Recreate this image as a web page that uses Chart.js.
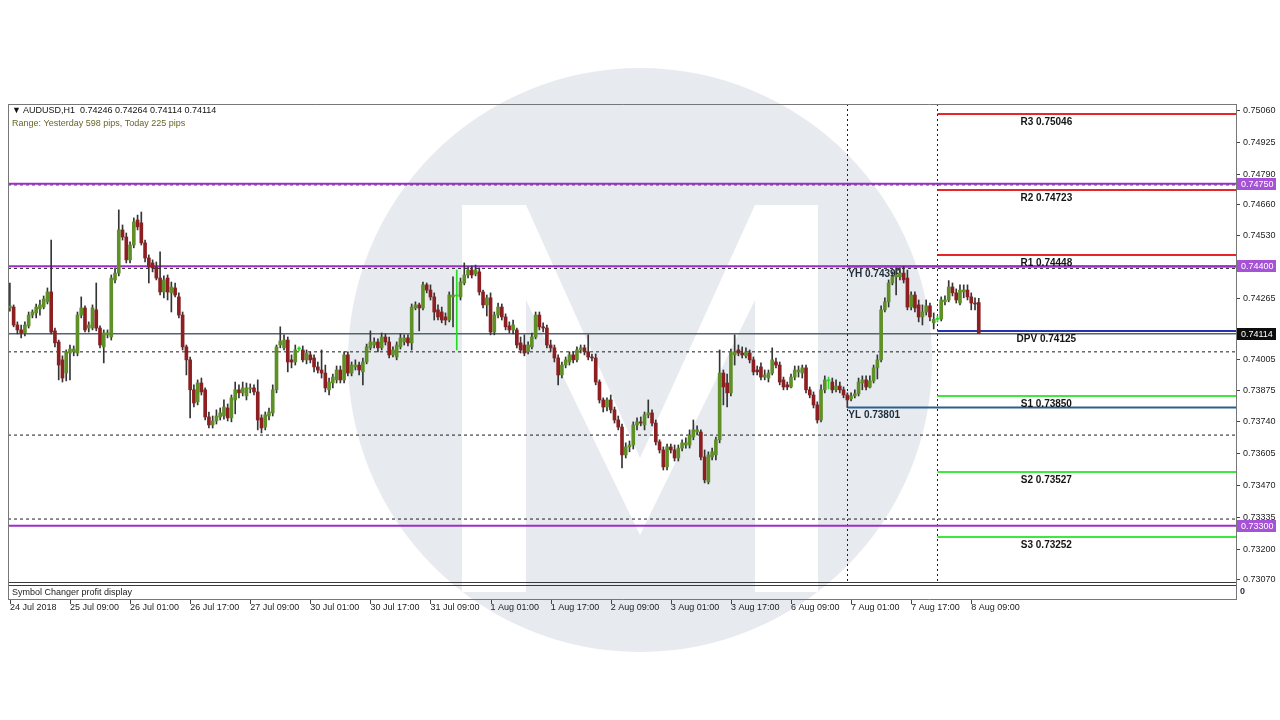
<!DOCTYPE html>
<html>
<head>
<meta charset="utf-8">
<title>AUDUSD,H1</title>
<script src="https://cdn.jsdelivr.net/npm/chart.js"></script>
<style>
    html, body { margin: 0; padding: 0; background: #ffffff; }
    #chartBox { width: 1280px; height: 720px; }
</style>
</head>
<body>
<div id="chartBox"><canvas id="priceChart" width="1280" height="720"></canvas></div>
<script>
// --- Data ---
const symbolName = 'AUDUSD,H1';
const rangeText = 'Range: Yesterday 598 pips, Today 225 pips';
const subWindowName = 'Symbol Changer profit display';

// x axis: one label every 16 hourly bars
const timeLabels = ['24 Jul 2018', '25 Jul 09:00', '26 Jul 01:00', '26 Jul 17:00', '27 Jul 09:00', '30 Jul 01:00',
    '30 Jul 17:00', '31 Jul 09:00', '1 Aug 01:00', '1 Aug 17:00', '2 Aug 09:00', '3 Aug 01:00', '3 Aug 17:00',
    '6 Aug 09:00', '7 Aug 01:00', '7 Aug 17:00', '8 Aug 09:00'];
const labelEvery = 16;
const slotCount = 327;          // bars that fit in the window (rest is empty space on the right)
const yesterdayStart = 223;     // bar index of 7 Aug 00:00
const todayStart = 247;         // bar index of 8 Aug 00:00

// right axis
const yTicks = [0.75060, 0.74925, 0.74790, 0.74660, 0.74530, 0.74400, 0.74265, 0.74125, 0.74005, 0.73875,
    0.73740, 0.73605, 0.73470, 0.73335, 0.73200, 0.73070];
const yMin = 0.73061;
const yMax = 0.75088;

const opens = [
    0.74223, 0.74227, 0.74151, 0.74130, 0.74117, 0.74147, 0.74193, 0.74202, 0.74219, 0.74227,
    0.74249, 0.74291, 0.74126, 0.74079, 0.74003, 0.73947, 0.74032, 0.74037, 0.74032, 0.74193,
    0.74223, 0.74138, 0.74138, 0.74215, 0.74138, 0.74058, 0.74109, 0.74100, 0.74342, 0.74371,
    0.74554, 0.74524, 0.74427, 0.74490, 0.74596, 0.74584, 0.74499, 0.74435, 0.74414, 0.74397,
    0.74350, 0.74291, 0.74350, 0.74287, 0.74308, 0.74270, 0.74193, 0.74058, 0.74003, 0.73876,
    0.73825, 0.73905, 0.73876, 0.73761, 0.73727, 0.73744, 0.73761, 0.73765, 0.73799, 0.73757,
    0.73833, 0.73876, 0.73863, 0.73850, 0.73880, 0.73884, 0.73867, 0.73757, 0.73718, 0.73765,
    0.73778, 0.73876, 0.74066, 0.74054, 0.74087, 0.74003, 0.73994, 0.74049, 0.74045, 0.74003,
    0.74024, 0.74011, 0.73973, 0.73960, 0.73947, 0.73876, 0.73905, 0.73918, 0.73960, 0.73918,
    0.74024, 0.73947, 0.73973, 0.73981, 0.73952, 0.73994, 0.74054, 0.74066, 0.74079, 0.74054,
    0.74100, 0.74079, 0.74024, 0.74015, 0.74058, 0.74079, 0.74096, 0.74075, 0.74223, 0.74236,
    0.74223, 0.74321, 0.74299, 0.74270, 0.74215, 0.74206, 0.74185, 0.74172, 0.74270, 0.74274,
    0.74270, 0.74329, 0.74363, 0.74384, 0.74367, 0.74376, 0.74291, 0.74236, 0.74266, 0.74121,
    0.74193, 0.74227, 0.74185, 0.74147, 0.74130, 0.74130, 0.74075, 0.74066, 0.74037, 0.74058,
    0.74100, 0.74193, 0.74143, 0.74138, 0.74066, 0.74054, 0.74011, 0.73939, 0.73981, 0.73994,
    0.74024, 0.74003, 0.74045, 0.74054, 0.74037, 0.74015, 0.74011, 0.73909, 0.73833, 0.73803,
    0.73833, 0.73791, 0.73748, 0.73718, 0.73600, 0.73634, 0.73642, 0.73727, 0.73740, 0.73727,
    0.73770, 0.73778, 0.73735, 0.73655, 0.73621, 0.73549, 0.73634, 0.73621, 0.73587, 0.73629,
    0.73642, 0.73642, 0.73676, 0.73697, 0.73697, 0.73591, 0.73485, 0.73591, 0.73600, 0.73664,
    0.73947, 0.73905, 0.73863, 0.74024, 0.74045, 0.74032, 0.74020, 0.74032, 0.74003, 0.73960,
    0.73973, 0.73930, 0.73926, 0.73947, 0.73994, 0.73981, 0.73918, 0.73897, 0.73888, 0.73930,
    0.73952, 0.73947, 0.73969, 0.73876, 0.73854, 0.73812, 0.73748, 0.73876, 0.73914, 0.73909,
    0.73876, 0.73892, 0.73876, 0.73854, 0.73838, 0.73850, 0.73859, 0.73905, 0.73918, 0.73888,
    0.73914, 0.73969, 0.74003, 0.74215, 0.74249, 0.74329, 0.74355, 0.74355, 0.74371, 0.74350,
    0.74227, 0.74278, 0.74236, 0.74185, 0.74206, 0.74232, 0.74160, 0.74175, 0.74176, 0.74249,
    0.74257, 0.74312, 0.74287, 0.74244, 0.74291, 0.74299, 0.74270, 0.74244, 0.74246
];
const highs = [
    0.74329, 0.74236, 0.74164, 0.74151, 0.74164, 0.74206, 0.74215, 0.74240, 0.74257, 0.74274,
    0.74308, 0.74511, 0.74138, 0.74087, 0.74020, 0.74045, 0.74066, 0.74062, 0.74206, 0.74270,
    0.74232, 0.74164, 0.74236, 0.74329, 0.74147, 0.74130, 0.74130, 0.74363, 0.74393, 0.74639,
    0.74575, 0.74541, 0.74503, 0.74605, 0.74617, 0.74630, 0.74511, 0.74448, 0.74427, 0.74418,
    0.74461, 0.74359, 0.74363, 0.74333, 0.74329, 0.74287, 0.74206, 0.74066, 0.74015, 0.73897,
    0.73918, 0.73926, 0.73884, 0.73782, 0.73765, 0.73791, 0.73799, 0.73833, 0.73816, 0.73854,
    0.73909, 0.73897, 0.73909, 0.73905, 0.73901, 0.73897, 0.73918, 0.73770, 0.73782, 0.73799,
    0.73897, 0.74066, 0.74143, 0.74109, 0.74100, 0.74024, 0.74066, 0.74058, 0.74062, 0.74045,
    0.74037, 0.74024, 0.73994, 0.74045, 0.73981, 0.73926, 0.73943, 0.73977, 0.73977, 0.74037,
    0.74037, 0.73994, 0.74003, 0.73994, 0.74011, 0.74070, 0.74126, 0.74096, 0.74092, 0.74117,
    0.74113, 0.74100, 0.74058, 0.74079, 0.74113, 0.74109, 0.74109, 0.74240, 0.74249, 0.74244,
    0.74333, 0.74329, 0.74321, 0.74287, 0.74236, 0.74227, 0.74202, 0.74291, 0.74355, 0.74384,
    0.74350, 0.74414, 0.74397, 0.74401, 0.74405, 0.74393, 0.74299, 0.74278, 0.74287, 0.74206,
    0.74244, 0.74240, 0.74198, 0.74164, 0.74172, 0.74138, 0.74100, 0.74109, 0.74079, 0.74117,
    0.74206, 0.74206, 0.74160, 0.74151, 0.74087, 0.74066, 0.74024, 0.73994, 0.74015, 0.74037,
    0.74037, 0.74058, 0.74066, 0.74066, 0.74109, 0.74028, 0.74028, 0.73918, 0.73842, 0.73842,
    0.73854, 0.73803, 0.73765, 0.73731, 0.73651, 0.73659, 0.73740, 0.73757, 0.73761, 0.73782,
    0.73833, 0.73791, 0.73748, 0.73664, 0.73634, 0.73646, 0.73646, 0.73642, 0.73642, 0.73664,
    0.73672, 0.73706, 0.73748, 0.73723, 0.73706, 0.73621, 0.73613, 0.73629, 0.73676, 0.74045,
    0.73960, 0.73943, 0.74049, 0.74109, 0.74066, 0.74058, 0.74054, 0.74045, 0.74015, 0.73977,
    0.73990, 0.73960, 0.73960, 0.74054, 0.74011, 0.73994, 0.73930, 0.73909, 0.73943, 0.73977,
    0.73977, 0.73981, 0.73981, 0.73888, 0.73867, 0.73825, 0.73897, 0.73935, 0.73930, 0.73926,
    0.73918, 0.73909, 0.73888, 0.73863, 0.73863, 0.73876, 0.73926, 0.73935, 0.73935, 0.73935,
    0.73981, 0.74024, 0.74232, 0.74266, 0.74342, 0.74376, 0.74393, 0.74393, 0.74399, 0.74384,
    0.74291, 0.74291, 0.74257, 0.74236, 0.74257, 0.74244, 0.74202, 0.74189, 0.74270, 0.74274,
    0.74339, 0.74329, 0.74304, 0.74321, 0.74321, 0.74321, 0.74287, 0.74266, 0.74264
];
const lows = [
    0.74210, 0.74143, 0.74113, 0.74096, 0.74104, 0.74138, 0.74181, 0.74181, 0.74193, 0.74219,
    0.74240, 0.74113, 0.74058, 0.73918, 0.73909, 0.73914, 0.73918, 0.74020, 0.74020, 0.74181,
    0.74121, 0.74121, 0.74130, 0.74126, 0.74054, 0.73990, 0.74096, 0.74087, 0.74329, 0.74359,
    0.74511, 0.74414, 0.74414, 0.74478, 0.74554, 0.74490, 0.74418, 0.74329, 0.74376, 0.74342,
    0.74278, 0.74266, 0.74257, 0.74206, 0.74270, 0.74181, 0.74045, 0.73939, 0.73757, 0.73803,
    0.73812, 0.73854, 0.73748, 0.73714, 0.73714, 0.73731, 0.73748, 0.73752, 0.73744, 0.73740,
    0.73774, 0.73842, 0.73850, 0.73833, 0.73863, 0.73854, 0.73706, 0.73693, 0.73706, 0.73748,
    0.73765, 0.73863, 0.74054, 0.74045, 0.73952, 0.73969, 0.73981, 0.74041, 0.73994, 0.73986,
    0.73990, 0.73952, 0.73947, 0.73926, 0.73867, 0.73854, 0.73884, 0.73905, 0.73905, 0.73905,
    0.73935, 0.73935, 0.73960, 0.73939, 0.73897, 0.73986, 0.74045, 0.74054, 0.74037, 0.74045,
    0.74066, 0.74011, 0.74015, 0.74003, 0.74049, 0.74066, 0.74062, 0.74045, 0.74215, 0.74126,
    0.74215, 0.74287, 0.74257, 0.74172, 0.74172, 0.74160, 0.74151, 0.74164, 0.74143, 0.74045,
    0.74257, 0.74321, 0.74350, 0.74350, 0.74359, 0.74278, 0.74223, 0.74189, 0.74109, 0.74109,
    0.74181, 0.74172, 0.74130, 0.74117, 0.74113, 0.74054, 0.74032, 0.74020, 0.74028, 0.74049,
    0.74092, 0.74130, 0.74121, 0.74054, 0.74037, 0.73994, 0.73897, 0.73926, 0.73969, 0.73981,
    0.73990, 0.73994, 0.74032, 0.74024, 0.74003, 0.73998, 0.73897, 0.73820, 0.73782, 0.73786,
    0.73778, 0.73735, 0.73706, 0.73545, 0.73587, 0.73613, 0.73625, 0.73706, 0.73723, 0.73706,
    0.73757, 0.73723, 0.73642, 0.73608, 0.73536, 0.73536, 0.73608, 0.73574, 0.73574, 0.73617,
    0.73629, 0.73629, 0.73664, 0.73685, 0.73579, 0.73481, 0.73477, 0.73579, 0.73579, 0.73651,
    0.73812, 0.73803, 0.73850, 0.73981, 0.74020, 0.74011, 0.74011, 0.73990, 0.73939, 0.73939,
    0.73918, 0.73918, 0.73909, 0.73939, 0.73969, 0.73897, 0.73876, 0.73876, 0.73884, 0.73918,
    0.73930, 0.73926, 0.73863, 0.73842, 0.73799, 0.73735, 0.73740, 0.73863, 0.73880, 0.73863,
    0.73867, 0.73863, 0.73842, 0.73801, 0.73829, 0.73842, 0.73850, 0.73876, 0.73876, 0.73884,
    0.73905, 0.73922, 0.73994, 0.74206, 0.74227, 0.74321, 0.74278, 0.74342, 0.74329, 0.74215,
    0.74215, 0.74206, 0.74164, 0.74151, 0.74193, 0.74168, 0.74134, 0.74164, 0.74168, 0.74236,
    0.74249, 0.74274, 0.74244, 0.74236, 0.74266, 0.74257, 0.74215, 0.74215, 0.74114
];
const closes = [
    0.74232, 0.74151, 0.74130, 0.74117, 0.74151, 0.74193, 0.74206, 0.74227, 0.74236, 0.74261,
    0.74291, 0.74121, 0.74075, 0.73981, 0.73926, 0.74037, 0.74049, 0.74049, 0.74193, 0.74223,
    0.74130, 0.74151, 0.74223, 0.74138, 0.74066, 0.74117, 0.74117, 0.74350, 0.74371, 0.74554,
    0.74524, 0.74427, 0.74490, 0.74588, 0.74567, 0.74499, 0.74435, 0.74397, 0.74393, 0.74350,
    0.74291, 0.74342, 0.74291, 0.74312, 0.74278, 0.74193, 0.74058, 0.74003, 0.73876, 0.73820,
    0.73905, 0.73867, 0.73761, 0.73727, 0.73744, 0.73765, 0.73778, 0.73803, 0.73757, 0.73842,
    0.73876, 0.73863, 0.73884, 0.73884, 0.73884, 0.73867, 0.73748, 0.73714, 0.73770, 0.73782,
    0.73876, 0.74058, 0.74083, 0.74087, 0.73994, 0.73994, 0.74045, 0.74049, 0.74003, 0.74032,
    0.74003, 0.73973, 0.73960, 0.73947, 0.73884, 0.73909, 0.73930, 0.73960, 0.73918, 0.74024,
    0.73947, 0.73981, 0.73981, 0.73960, 0.73994, 0.74058, 0.74079, 0.74079, 0.74054, 0.74100,
    0.74079, 0.74024, 0.74045, 0.74066, 0.74096, 0.74096, 0.74075, 0.74227, 0.74236, 0.74223,
    0.74321, 0.74299, 0.74270, 0.74206, 0.74185, 0.74172, 0.74172, 0.74278, 0.74278, 0.74274,
    0.74333, 0.74363, 0.74384, 0.74363, 0.74384, 0.74291, 0.74236, 0.74266, 0.74121, 0.74193,
    0.74227, 0.74185, 0.74143, 0.74130, 0.74151, 0.74066, 0.74045, 0.74032, 0.74066, 0.74100,
    0.74193, 0.74143, 0.74138, 0.74066, 0.74054, 0.74011, 0.73939, 0.73981, 0.74003, 0.74024,
    0.74003, 0.74045, 0.74054, 0.74037, 0.74015, 0.74011, 0.73909, 0.73833, 0.73803, 0.73833,
    0.73791, 0.73748, 0.73718, 0.73600, 0.73634, 0.73642, 0.73727, 0.73740, 0.73735, 0.73770,
    0.73778, 0.73735, 0.73655, 0.73621, 0.73549, 0.73634, 0.73621, 0.73587, 0.73629, 0.73651,
    0.73651, 0.73685, 0.73706, 0.73706, 0.73591, 0.73494, 0.73600, 0.73613, 0.73664, 0.73947,
    0.73888, 0.73863, 0.74037, 0.74037, 0.74032, 0.74024, 0.74037, 0.74003, 0.73952, 0.73952,
    0.73930, 0.73939, 0.73947, 0.74003, 0.73981, 0.73909, 0.73888, 0.73888, 0.73930, 0.73960,
    0.73960, 0.73969, 0.73876, 0.73854, 0.73812, 0.73748, 0.73876, 0.73918, 0.73914, 0.73876,
    0.73892, 0.73876, 0.73854, 0.73833, 0.73850, 0.73859, 0.73909, 0.73918, 0.73888, 0.73914,
    0.73969, 0.74003, 0.74215, 0.74249, 0.74329, 0.74355, 0.74363, 0.74371, 0.74342, 0.74227,
    0.74278, 0.74223, 0.74185, 0.74206, 0.74232, 0.74185, 0.74175, 0.74175, 0.74257, 0.74257,
    0.74312, 0.74287, 0.74257, 0.74299, 0.74299, 0.74270, 0.74244, 0.74240, 0.74114
];

// pivot levels for today, yesterday high / low, round levels and dotted levels
const pivotNames = ['R3', 'R2', 'R1', 'DPV', 'S1', 'S2', 'S3'];
const pivotValues = [0.75046, 0.74723, 0.74448, 0.74125, 0.73850, 0.73527, 0.73252];
const yesterdayHigh = 0.74399;
const yesterdayLow = 0.73801;
const roundLevels = [0.74750, 0.74400, 0.73300];
const dottedLevels = [0.74745, 0.74391, 0.74037, 0.73684, 0.73328];

const FONT = "'Liberation Sans', Arial, sans-serif";

document.addEventListener('DOMContentLoaded', function () {
    const ctx = document.getElementById('priceChart')?.getContext('2d');
    if (!ctx) {
        console.warn("Canvas 'priceChart' not found.");
        return;
    }

    const slots = Array.from({ length: slotCount }, (_, i) => i);
    const wicks = lows.map((l, i) => [l, highs[i]]);
    const bodies = opens.map((o, i) => [o, closes[i]]);
    const kinds = opens.map((o, i) => closes[i] > o ? 'up' : (closes[i] < o ? 'down' : 'doji'));
    const bodyColor = { up: '#5f8f27', down: '#8c1f22', doji: '#22dd22' };
    const wickColor = { up: '#353535', down: '#353535', doji: '#22dd22' };

    // --- Watermark (circle with the M) ---
    const watermark = {
        id: 'watermark',
        beforeDraw(chart) {
            const c = chart.ctx;
            c.save();
            c.fillStyle = '#ffffff';
            c.fillRect(0, 0, chart.width, chart.height);
            c.beginPath();
            c.arc(640, 360, 292, 0, Math.PI * 2);
            c.fillStyle = '#e7eaef';
            c.fill();
            c.clip();
            c.beginPath();
            c.moveTo(462, 205); c.lineTo(526, 205); c.lineTo(640, 458); c.lineTo(755, 205);
            c.lineTo(818, 205); c.lineTo(818, 592); c.lineTo(755, 592); c.lineTo(755, 300);
            c.lineTo(640, 535); c.lineTo(526, 300); c.lineTo(526, 592); c.lineTo(462, 592);
            c.closePath();
            c.fillStyle = '#ffffff';
            c.fill();
            c.restore();
        }
    };

    // --- Level lines and their texts (under the candles) ---
    const levels = {
        id: 'levels',
        beforeDatasetsDraw(chart) {
            const { ctx: c, chartArea: a, scales: { x, y } } = chart;
            c.save();
            c.beginPath();
            c.rect(a.left, a.top, a.right - a.left, a.bottom - a.top);
            c.clip();

            const hline = (v, x0, color, width, dash) => {
                const py = y.getPixelForValue(v);
                c.beginPath();
                c.setLineDash(dash);
                c.strokeStyle = color;
                c.lineWidth = width;
                c.moveTo(x0, py);
                c.lineTo(a.right, py);
                c.stroke();
            };

            dottedLevels.forEach(v => hline(v, a.left, '#1e1e1e', 1, [3, 3]));
            hline(closes[closes.length - 1], a.left, '#56626f', 1.5, []);

            // day separators
            [yesterdayStart, todayStart].forEach(i => {
                const px = Math.round(x.getPixelForValue(i)) + 0.5;
                c.beginPath();
                c.setLineDash([2, 3]);
                c.strokeStyle = '#1e1e1e';
                c.lineWidth = 1;
                c.moveTo(px, a.top);
                c.lineTo(px, a.bottom);
                c.stroke();
            });

            const xYest = x.getPixelForValue(yesterdayStart);
            const xToday = x.getPixelForValue(todayStart);
            hline(yesterdayHigh, xYest, '#2a5f8e', 2, []);
            hline(yesterdayLow, xYest, '#2a5f8e', 2, []);

            pivotValues.forEach((v, k) => {
                const name = pivotNames[k];
                const color = name[0] === 'R' ? '#e8262a' : (name[0] === 'S' ? '#3fe83f' : '#2433b0');
                hline(v, xToday, color, 2, []);
            });
            roundLevels.forEach(v => hline(v, a.left, '#9c2fc8', 2, []));

            c.setLineDash([]);
            c.font = 'bold 10px ' + FONT;
            c.fillStyle = '#141414';
            c.textBaseline = 'top';
            c.textAlign = 'center';
            const xText = x.getPixelForValue(276);
            pivotValues.forEach((v, k) => {
                c.fillText(pivotNames[k] + ' ' + v.toFixed(5), xText, y.getPixelForValue(v) + 3);
            });
            c.textAlign = 'left';
            c.fillStyle = '#1d2b3a';
            c.fillText('YH ' + yesterdayHigh.toFixed(5), xYest + 1, y.getPixelForValue(yesterdayHigh) + 3);
            c.fillText('YL ' + yesterdayLow.toFixed(5), xYest + 1, y.getPixelForValue(yesterdayLow) + 3);
            c.restore();
        }
    };

    // --- Frame, info texts, price boxes, sub window ---
    const overlay = {
        id: 'overlay',
        afterDraw(chart) {
            const { ctx: c, chartArea: a, scales: { x, y } } = chart;
            c.save();
            c.lineWidth = 1;
            c.setLineDash([]);

            // sub window
            c.strokeStyle = '#3a3a3a';
            c.beginPath();
            c.moveTo(a.left, a.bottom + 0.5); c.lineTo(a.right, a.bottom + 0.5);
            c.moveTo(a.left, a.bottom + 3.5); c.lineTo(a.right, a.bottom + 3.5);
            c.stroke();
            c.strokeStyle = '#777777';
            c.beginPath();
            c.moveTo(a.left, 599.5); c.lineTo(a.right + 0.5, 599.5);
            c.moveTo(a.left + 0.5, a.top); c.lineTo(a.left + 0.5, 600);
            c.moveTo(a.right + 0.5, a.top); c.lineTo(a.right + 0.5, 600);
            c.moveTo(a.left, a.top + 0.5); c.lineTo(a.right + 0.5, a.top + 0.5);
            c.stroke();

            c.font = '9px ' + FONT;
            c.textBaseline = 'middle';
            c.textAlign = 'left';
            c.fillStyle = '#222222';
            c.fillText(subWindowName, a.left + 4, 593);
            c.font = 'bold 9px ' + FONT;
            c.fillStyle = '#3a2a4a';
            c.fillText('0', a.right + 4, 592);

            // x tick marks
            c.strokeStyle = '#444444';
            c.beginPath();
            timeLabels.forEach((t, k) => {
                const px = Math.round(x.getPixelForValue(k * labelEvery)) + 0.5;
                c.moveTo(px, 600); c.lineTo(px, 604);
            });
            c.stroke();

            // chart info text
            const last = opens.length - 1;
            c.font = '9px ' + FONT;
            c.fillStyle = '#111111';
            c.fillText('\u25BC', a.left + 4, 111);
            c.fillText(symbolName + '  ' + [opens[last], highs[last], lows[last], closes[last]].map(v => v.toFixed(5)).join(' '),
                a.left + 15, 111);
            c.fillStyle = '#6a6428';
            c.fillText(rangeText, a.left + 4, 124);

            // price boxes on the right axis
            const box = (v, bg) => {
                const py = Math.round(y.getPixelForValue(v));
                c.fillStyle = bg;
                c.fillRect(a.right + 1, py - 6, 39, 12);
                c.fillStyle = '#ffffff';
                c.font = '9px ' + FONT;
                c.fillText(v.toFixed(5), a.right + 5, py + 0.5);
            };
            roundLevels.forEach(v => box(v, '#a552d6'));
            box(closes[last], '#0d0d0d');
            c.restore();
        }
    };

    new Chart(ctx, {
        type: 'bar',
        data: {
            labels: slots,
            datasets: [{
                label: 'wicks',
                data: wicks,
                backgroundColor: kinds.map(k => wickColor[k]),
                barThickness: 1,
                minBarLength: 1,
                grouped: false,
                order: 2
            }, {
                label: 'bodies',
                data: bodies,
                backgroundColor: kinds.map(k => bodyColor[k]),
                borderWidth: 0,
                barThickness: 3,
                minBarLength: 1,
                grouped: false,
                order: 1
            }]
        },
        options: {
            responsive: false,
            animation: false,
            devicePixelRatio: 1,
            layout: { padding: { left: 8, top: 104, right: 0, bottom: 0 } },
            plugins: {
                legend: { display: false },
                tooltip: { enabled: false }
            },
            scales: {
                x: {
                    type: 'category',
                    offset: true,
                    afterFit: s => { s.height = 138; s.paddingLeft = 0; s.paddingRight = 0; },
                    grid: { display: false },
                    border: { display: false },
                    ticks: {
                        autoSkip: false,
                        maxRotation: 0,
                        minRotation: 0,
                        align: 'start',
                        padding: 12,
                        color: '#222222',
                        font: { family: FONT, size: 9 },
                        callback: (v, i) => (i % labelEvery === 0 && timeLabels[i / labelEvery]) ? timeLabels[i / labelEvery] : null
                    }
                },
                y: {
                    position: 'right',
                    min: yMin,
                    max: yMax,
                    afterFit: s => { s.width = 44; s.paddingTop = 0; s.paddingBottom = 0; },
                    afterBuildTicks: s => { s.ticks = yTicks.map(v => ({ value: v })); },
                    grid: { drawOnChartArea: false, drawTicks: true, tickLength: 4, color: '#444444' },
                    border: { display: false },
                    ticks: {
                        autoSkip: false,
                        padding: 3,
                        color: '#222222',
                        font: { family: FONT, size: 9 },
                        callback: v => Number(v).toFixed(5)
                    }
                }
            }
        },
        plugins: [watermark, levels, overlay]
    });
});
</script>
</body>
</html>
